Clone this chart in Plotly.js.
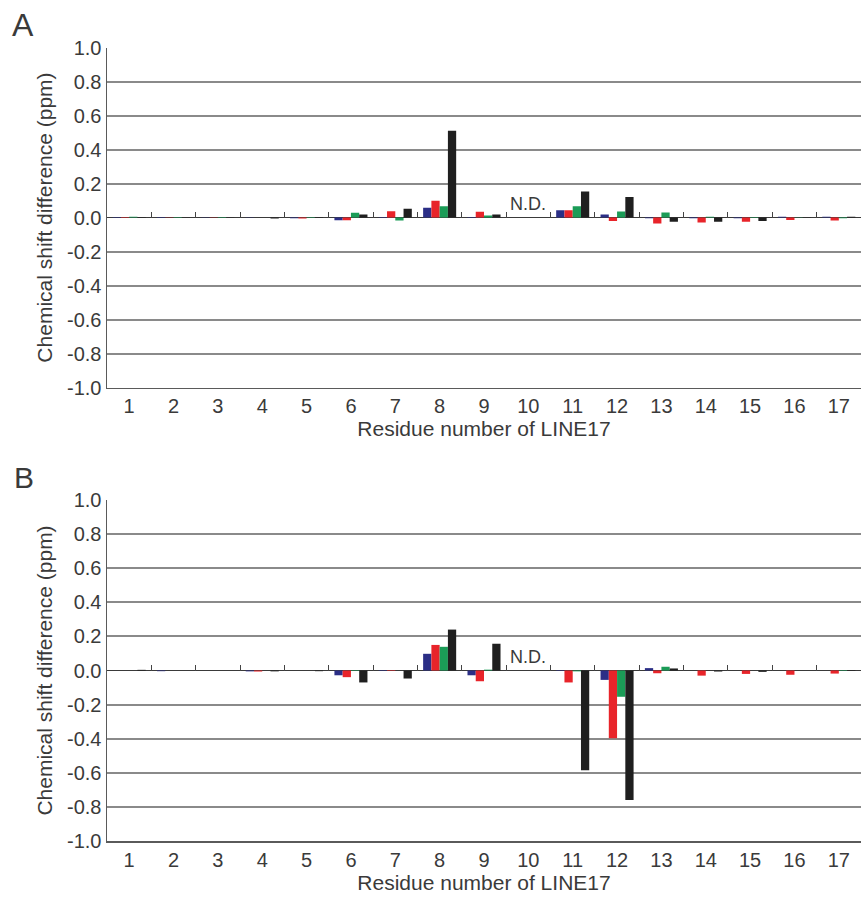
<!DOCTYPE html>
<html>
<head>
<meta charset="utf-8">
<script src="https://cdn.plot.ly/plotly-3.0.1.min.js"></script>
<style>
  html, body { margin: 0; padding: 0; background: #ffffff; }
  #chart { width: 861px; height: 897px; }
</style>
</head>
<body>
<div id="chart"></div>
<script>
// ---- Data ----
const residues = [1, 2, 3, 4, 5, 6, 7, 8, 9, 10, 11, 12, 13, 14, 15, 16, 17];
const xTickLabels = ["1", "2", "3", "4", "5", "6", "7", "8", "9", "10", "11", "12", "13", "14", "15", "16", "17"];
const separatorVals = [1.5, 2.5, 3.5, 4.5, 5.5, 6.5, 7.5, 8.5, 9.5, 10.5, 11.5, 12.5, 13.5, 14.5, 15.5, 16.5];
const yTickVals = [1.0, 0.8, 0.6, 0.4, 0.2, 0.0, -0.2, -0.4, -0.6, -0.8, -1.0];
const yTickText = ["1.0", "0.8", "0.6", "0.4", "0.2", "0.0", "-0.2", "-0.4", "-0.6", "-0.8", "-1.0"];

// Panel A
const A_blue  = [0.003, 0.003, 0.002, 0.002, -0.005, -0.016, 0.003, 0.058, 0.003, null, 0.043, 0.018, -0.004, -0.005, -0.004, 0.004, 0.004];
const A_red   = [0.003, 0.002, 0.002, 0.000, -0.006, -0.016, 0.037, 0.098, 0.034, null, 0.043, -0.020, -0.035, -0.030, -0.025, -0.015, -0.018];
const A_green = [0.004, 0.003, 0.003, 0.000, 0.003, 0.028, -0.018, 0.067, 0.012, null, 0.067, 0.035, 0.030, 0.004, 0.003, 0.002, -0.004];
const A_black = [0.003, 0.002, 0.002, -0.006, 0.003, 0.018, 0.052, 0.510, 0.018, null, 0.153, 0.120, -0.025, -0.025, -0.020, 0.001, 0.005];

// Panel B
const B_blue  = [0.000, -0.004, 0.000, -0.005, 0.000, -0.028, 0.003, 0.098, -0.028, null, -0.003, -0.055, 0.014, 0.000, 0.000, 0.000, 0.000];
const B_red   = [0.000, 0.000, 0.000, -0.006, 0.000, -0.039, 0.003, 0.150, -0.063, null, -0.070, -0.397, -0.016, -0.030, -0.020, -0.025, -0.018];
const B_green = [0.000, 0.000, 0.000, 0.000, 0.000, 0.003, 0.000, 0.139, 0.005, null, -0.005, -0.154, 0.022, 0.000, 0.000, 0.000, 0.003];
const B_black = [0.004, 0.000, 0.000, -0.005, -0.004, -0.070, -0.047, 0.240, 0.157, null, -0.585, -0.760, 0.012, -0.006, -0.008, 0.000, 0.003];

const seriesNames = ["blue", "red", "green", "black"];
const seriesColors = ["#2b2e86", "#e8242a", "#1b9c57", "#1f1f1f"];

// ---- Traces ----
function barTraces(arrays, xa, ya) {
  return arrays.map((vals, i) => ({
    type: "bar",
    x: residues,
    y: vals,
    name: seriesNames[i],
    marker: { color: seriesColors[i], line: { width: 0 } },
    xaxis: xa, yaxis: ya,
    showlegend: false,
    hoverinfo: "x+y"
  }));
}

const traces = [
  ...barTraces([A_blue, A_red, A_green, A_black], "x", "y"),
  ...barTraces([B_blue, B_red, B_green, B_black], "x2", "y2"),
  // helper (invisible) traces so the separator-tick axes get drawn
  { type: "scatter", x: [null], y: [null], xaxis: "x3", yaxis: "y", showlegend: false, hoverinfo: "skip" },
  { type: "scatter", x: [null], y: [null], xaxis: "x4", yaxis: "y2", showlegend: false, hoverinfo: "skip" }
];

const FONT = "Liberation Sans, Arial, Helvetica, sans-serif";
const TXT = "#3a3a3a";

const domA = [0.568, 0.947];
const domB = [0.0624, 0.4426];

function xMain(anchor) {
  return {
    domain: [0, 1], anchor: anchor,
    range: [0.5, 17.5],
    tickmode: "array", tickvals: residues, ticktext: xTickLabels,
    ticks: "", showgrid: false, zeroline: false,
    showline: true, linecolor: "#5a5a5a", linewidth: 1.5,
    tickfont: { family: FONT, size: 20, color: TXT },
    title: { text: "Residue number of LINE17", font: { family: FONT, size: 21, color: TXT }, standoff: 4 },
    fixedrange: true
  };
}
function yMain(dom, anchor) {
  return {
    domain: dom, anchor: anchor,
    range: [-1.0, 1.0],
    tickmode: "array", tickvals: yTickVals, ticktext: yTickText,
    ticks: "", showgrid: true, gridcolor: "#8a8a8a", gridwidth: 2,
    zeroline: true, zerolinecolor: "#3a3a3a", zerolinewidth: 1,
    showline: true, linecolor: "#5a5a5a", linewidth: 1.5,
    tickfont: { family: FONT, size: 20, color: TXT },
    title: { text: "Chemical shift difference (ppm)", font: { family: FONT, size: 21, color: TXT }, standoff: 8 },
    fixedrange: true
  };
}
function xSep(over, dom) {
  return {
    overlaying: over, anchor: "free", position: (dom[0] + dom[1]) / 2,
    side: "top", domain: [0, 1],
    range: [0.5, 17.5],
    tickmode: "array", tickvals: separatorVals,
    ticks: "outside", ticklen: 6, tickwidth: 1, tickcolor: "#444444",
    showticklabels: false, showgrid: false, zeroline: false, showline: false,
    fixedrange: true
  };
}

const layout = {
  width: 861, height: 897,
  margin: { l: 107, r: 0, t: 0, b: 0, pad: 0 },
  paper_bgcolor: "#ffffff", plot_bgcolor: "#ffffff",
  barmode: "group", bargap: 0.255, bargroupgap: 0,
  showlegend: false,
  font: { family: FONT, color: TXT },
  xaxis: xMain("y"),
  yaxis: yMain(domA, "x"),
  xaxis2: xMain("y2"),
  yaxis2: yMain(domB, "x2"),
  xaxis3: xSep("x", domA),
  xaxis4: xSep("x2", domB),
  annotations: [
    { text: "A", xref: "paper", yref: "paper", x: -0.128, y: 0.972, xanchor: "left", yanchor: "middle",
      showarrow: false, font: { family: FONT, size: 32, color: TXT } },
    { text: "B", xref: "paper", yref: "paper", x: -0.126, y: 0.468, xanchor: "left", yanchor: "middle",
      showarrow: false, font: { family: FONT, size: 30, color: TXT } },
    { text: "N.D.", xref: "x", yref: "y", x: 10, y: 0.079, xanchor: "center", yanchor: "middle",
      showarrow: false, font: { family: FONT, size: 18, color: TXT } },
    { text: "N.D.", xref: "x2", yref: "y2", x: 10, y: 0.077, xanchor: "center", yanchor: "middle",
      showarrow: false, font: { family: FONT, size: 18, color: TXT } }
  ]
};

Plotly.newPlot("chart", traces, layout, { displayModeBar: false, staticPlot: true });
</script>
</body>
</html>
